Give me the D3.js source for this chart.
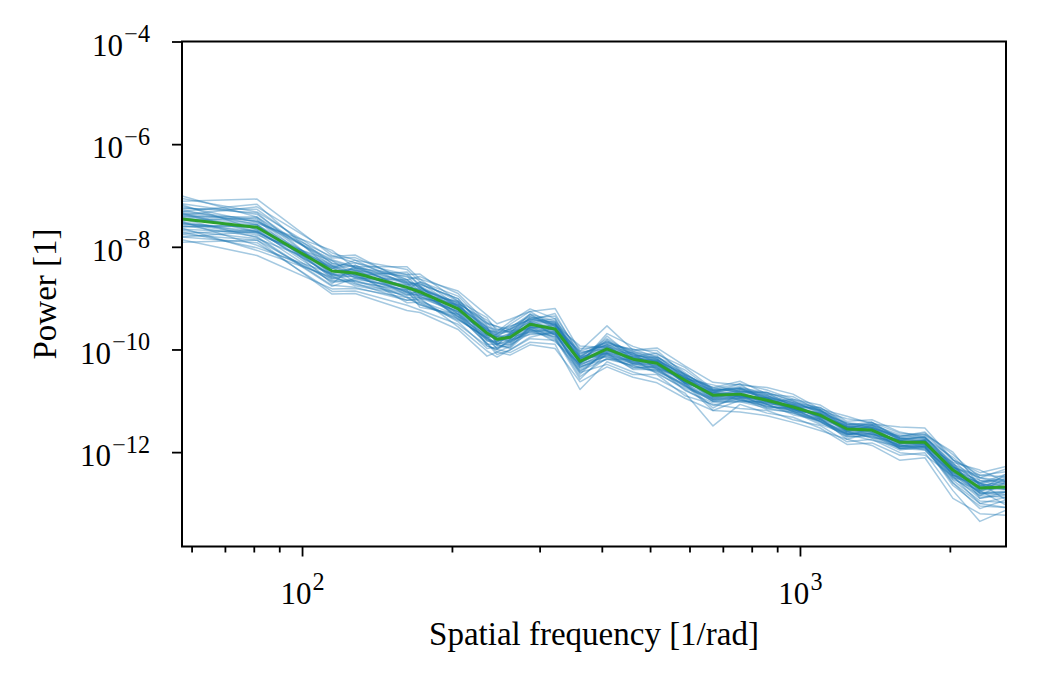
<!DOCTYPE html>
<html>
<head>
<meta charset="utf-8">
<script src="https://cdn.jsdelivr.net/npm/d3@7"></script>
<style>
  body { margin: 0; background: #fff; }
  text { font-family: "Liberation Serif", "DejaVu Serif", serif; fill: #000; }
</style>
</head>
<body>
<svg id="container" width="1039" height="686"></svg>
<script>
// spatial frequency bins [1/rad]
const frequency = [57.4, 81.2, 114.9, 127.8, 162.5, 172.5, 205.8, 235.2, 246.4, 261.6, 287.0, 322.2, 361.6,
  409.7, 462.0, 516.3, 587.5, 668.8, 757.7, 858.6, 968.2, 1097, 1243, 1395, 1588, 1782, 2029, 2298, 2593];

// green mean curve, log10 of power
const meanLogPower = [-7.46, -7.62, -8.47, -8.51, -8.79, -8.88, -9.21, -9.68, -9.80, -9.76, -9.51, -9.60, -10.23,
  -9.99, -10.19, -10.27, -10.60, -10.89, -10.87, -10.99, -11.12, -11.28, -11.55, -11.57, -11.81, -11.81, -12.35, -12.70, -12.68];

// individual realisations (thin blue), log10 of power
const realizationLogPower = [
  [-7.26, -7.27, -8.32, -8.46, -8.69, -8.93, -9.13, -9.56, -9.90, -9.71, -9.43, -9.63, -10.13, -10.07, -10.14, -10.24, -10.66, -10.85, -10.92, -10.93, -11.16, -11.25, -11.61, -11.49, -11.84, -11.76, -12.45, -12.58, -12.53],
  [-7.76, -7.87, -8.67, -8.66, -8.89, -9.00, -9.26, -9.83, -9.88, -9.86, -9.63, -9.66, -10.43, -10.04, -10.27, -10.31, -10.57, -10.99, -10.89, -11.05, -11.10, -11.33, -11.58, -11.65, -11.77, -11.87, -12.20, -12.90, -12.78],
  [-7.11, -7.07, -8.17, -8.31, -8.54, -8.73, -9.01, -9.63, -9.68, -9.61, -9.41, -9.52, -10.18, -9.89, -10.16, -10.21, -10.50, -10.89, -10.79, -10.96, -11.06, -11.18, -11.50, -11.55, -11.73, -11.77, -12.25, -12.75, -12.43],
  [-7.86, -8.17, -8.82, -8.81, -8.99, -9.13, -9.36, -9.88, -10.05, -9.94, -9.61, -9.75, -10.53, -10.17, -10.31, -10.42, -10.68, -11.19, -10.99, -11.09, -11.20, -11.40, -11.70, -11.67, -11.93, -11.89, -12.65, -13.05, -13.08],
  [-7.36, -7.72, -8.42, -8.26, -8.74, -8.78, -9.31, -9.63, -9.65, -9.56, -9.36, -9.48, -10.11, -9.84, -10.11, -10.17, -10.65, -10.81, -10.75, -10.99, -11.07, -11.31, -11.47, -11.52, -11.89, -11.81, -12.30, -12.50, -12.63],
  [-7.61, -7.57, -8.57, -8.76, -8.94, -8.93, -9.06, -9.93, -10.00, -9.81, -9.71, -9.70, -10.38, -10.11, -10.24, -10.37, -10.52, -10.94, -10.95, -10.94, -11.22, -11.23, -11.60, -11.72, -11.78, -11.91, -12.43, -12.85, -12.58],
  [-7.21, -7.52, -8.27, -8.41, -8.59, -8.63, -9.16, -9.58, -9.80, -9.68, -9.31, -9.45, -9.98, -9.94, -10.07, -10.25, -10.55, -10.74, -10.84, -10.91, -11.02, -11.22, -11.52, -11.45, -11.71, -11.66, -12.15, -12.65, -12.73],
  [-7.51, -7.97, -8.62, -8.51, -9.09, -9.08, -9.41, -9.78, -9.92, -9.96, -9.56, -9.78, -10.58, -10.07, -10.39, -10.39, -10.70, -11.01, -10.93, -11.07, -11.27, -11.38, -11.65, -11.62, -11.93, -11.86, -12.60, -13.00, -12.88],
  [-7.41, -7.42, -8.52, -8.41, -8.79, -8.83, -9.11, -9.43, -9.60, -9.66, -9.46, -9.40, -10.15, -9.79, -10.09, -10.22, -10.48, -10.81, -10.72, -10.89, -11.09, -11.20, -11.45, -11.49, -11.76, -11.71, -12.23, -12.62, -12.48],
  [-7.66, -7.72, -8.37, -8.61, -8.64, -8.88, -9.36, -9.73, -9.75, -9.76, -9.66, -9.60, -10.33, -10.19, -10.19, -10.47, -10.75, -10.97, -10.97, -11.11, -11.17, -11.36, -11.67, -11.57, -11.91, -11.84, -12.50, -12.60, -12.93],
  [-7.31, -7.47, -8.72, -8.36, -8.84, -8.68, -8.96, -9.53, -9.70, -9.51, -9.26, -9.55, -10.03, -9.87, -10.04, -10.12, -10.57, -10.69, -10.82, -10.84, -11.00, -11.25, -11.43, -11.47, -11.66, -11.73, -12.10, -12.55, -12.58],
  [-7.71, -8.02, -8.52, -8.71, -9.04, -9.03, -9.46, -9.98, -9.95, -9.88, -9.59, -9.85, -10.28, -10.14, -10.34, -10.35, -10.80, -11.04, -11.02, -11.02, -11.20, -11.43, -11.63, -11.69, -11.86, -11.96, -12.55, -12.95, -12.98],
  [-7.16, -7.37, -8.37, -8.56, -8.49, -8.78, -9.21, -9.68, -9.85, -9.71, -9.51, -9.50, -10.28, -9.74, -10.14, -10.07, -10.45, -10.84, -10.67, -11.04, -10.97, -11.16, -11.55, -11.42, -11.76, -11.69, -12.30, -12.45, -12.38],
  [-7.46, -7.82, -8.77, -8.61, -8.84, -9.18, -9.31, -9.88, -10.10, -10.01, -9.76, -9.65, -10.48, -9.99, -10.29, -10.27, -10.65, -11.14, -10.87, -11.14, -11.12, -11.33, -11.75, -11.62, -11.89, -11.76, -12.40, -12.80, -12.83],
  [-7.06, -7.32, -8.22, -8.21, -8.64, -8.58, -8.91, -9.48, -9.55, -9.61, -9.39, -9.35, -10.08, -9.91, -9.99, -10.15, -10.40, -10.79, -10.77, -10.87, -11.04, -11.13, -11.47, -11.54, -11.69, -11.63, -12.05, -12.50, -12.33],
  [-7.56, -7.62, -8.47, -8.46, -8.89, -8.96, -9.26, -9.60, -9.75, -9.84, -9.56, -9.68, -10.18, -10.09, -10.24, -10.32, -10.60, -10.79, -10.92, -10.96, -11.17, -11.28, -11.50, -11.62, -11.81, -11.86, -12.27, -12.75, -12.68],
  [-7.38, -7.22, -8.12, -8.26, -8.44, -8.68, -9.06, -9.38, -9.65, -9.46, -9.21, -9.40, -10.28, -9.69, -9.94, -10.09, -10.35, -10.77, -10.67, -10.79, -10.97, -11.08, -11.40, -11.37, -11.61, -11.71, -12.20, -12.35, -12.58],
  [-7.81, -7.92, -8.87, -8.86, -9.14, -9.23, -9.51, -9.93, -10.00, -10.06, -9.86, -9.90, -10.78, -10.24, -10.44, -10.57, -10.85, -11.49, -11.07, -11.24, -11.32, -11.53, -11.85, -11.82, -12.06, -12.01, -12.75, -13.35, -13.13],
  [-7.28, -7.57, -8.42, -8.36, -8.71, -8.76, -9.41, -9.78, -9.70, -9.64, -9.59, -9.52, -9.93, -9.96, -10.11, -10.19, -10.52, -10.92, -10.79, -10.94, -11.04, -11.33, -11.50, -11.52, -11.73, -11.81, -12.40, -12.60, -12.73],
  [-7.54, -7.77, -8.27, -8.56, -8.99, -8.98, -9.16, -9.80, -9.85, -9.71, -9.46, -9.72, -10.31, -10.04, -10.07, -10.39, -10.72, -10.94, -10.92, -11.07, -11.24, -11.36, -11.63, -11.65, -11.86, -11.91, -12.47, -12.90, -12.83],
  [-7.24, -7.34, -8.55, -8.46, -8.57, -8.83, -9.09, -9.50, -9.55, -9.68, -9.39, -9.48, -10.23, -9.81, -10.19, -10.19, -10.65, -10.84, -10.77, -10.91, -11.07, -11.18, -11.60, -11.47, -11.78, -11.76, -12.27, -12.78, -12.50],
  [-7.74, -7.67, -8.65, -8.63, -8.79, -9.10, -9.43, -9.76, -9.98, -9.91, -9.69, -9.68, -10.35, -10.11, -10.37, -10.32, -10.65, -11.01, -10.99, -11.11, -11.15, -11.40, -11.60, -11.72, -11.96, -11.89, -12.53, -12.75, -13.03],
  [-7.34, -7.50, -8.19, -8.16, -8.69, -8.73, -9.01, -9.68, -9.75, -9.58, -9.31, -9.60, -10.05, -9.99, -10.14, -10.15, -10.48, -10.79, -10.75, -10.84, -11.12, -11.13, -11.43, -11.52, -11.69, -11.61, -12.15, -12.45, -12.48],
  [-7.64, -8.07, -8.59, -8.73, -8.91, -9.06, -9.33, -9.90, -9.90, -9.98, -9.63, -9.80, -10.41, -10.19, -10.31, -10.45, -10.78, -11.09, -10.95, -11.17, -11.22, -11.46, -11.65, -11.77, -11.89, -11.93, -12.60, -13.10, -12.93],
  [-7.41, -7.54, -8.07, -8.41, -8.54, -8.53, -9.06, -9.56, -9.62, -9.54, -9.43, -9.30, -10.13, -9.87, -10.01, -10.02, -10.50, -10.74, -10.62, -10.87, -10.92, -11.20, -11.35, -11.42, -11.63, -11.66, -12.00, -12.65, -12.56],
  [-7.58, -7.80, -8.75, -8.79, -9.04, -9.00, -9.56, -10.03, -10.15, -10.01, -9.79, -9.82, -10.45, -10.29, -10.49, -10.49, -10.90, -11.07, -11.15, -11.19, -11.37, -11.48, -11.80, -11.75, -12.01, -12.06, -12.47, -13.00, -13.08],
  [-7.18, -7.67, -8.39, -8.31, -8.64, -8.80, -9.13, -9.63, -9.80, -9.81, -9.36, -9.55, -10.18, -9.91, -10.27, -10.22, -10.55, -10.97, -10.82, -10.89, -11.17, -11.23, -11.50, -11.57, -11.81, -11.78, -12.35, -12.55, -12.68],
  [-7.49, -7.44, -8.62, -8.56, -8.87, -8.91, -9.29, -9.83, -9.85, -9.73, -9.54, -9.63, -10.26, -10.02, -10.16, -10.30, -10.63, -10.86, -10.90, -11.02, -11.09, -11.31, -11.52, -11.60, -11.78, -11.84, -12.38, -12.80, -12.76],
  [-7.01, -7.42, -8.32, -8.39, -8.39, -8.63, -8.86, -9.33, -9.50, -9.41, -9.26, -9.20, -10.03, -9.54, -10.01, -9.97, -10.32, -10.64, -10.69, -10.74, -10.87, -11.16, -11.30, -11.45, -11.51, -11.53, -12.15, -12.40, -12.28],
  [-7.91, -7.87, -8.92, -8.91, -9.24, -9.28, -9.61, -10.13, -10.05, -10.11, -9.91, -9.98, -10.63, -10.34, -10.54, -10.65, -10.95, -11.19, -11.22, -11.29, -11.42, -11.58, -11.75, -11.87, -12.16, -12.11, -12.90, -13.20, -13.23],
  [-7.34, -7.70, -8.42, -8.59, -8.74, -8.70, -9.19, -9.65, -9.72, -9.79, -9.49, -9.45, -10.25, -9.94, -10.11, -10.35, -10.58, -10.86, -10.85, -11.01, -11.10, -11.25, -11.57, -11.52, -11.83, -11.79, -12.30, -12.65, -12.60],
  [-7.61, -7.60, -8.52, -8.43, -8.94, -8.85, -9.23, -9.73, -9.92, -9.68, -9.59, -9.65, -10.20, -10.07, -10.22, -10.22, -10.68, -10.91, -10.89, -10.94, -11.18, -11.26, -11.63, -11.55, -11.86, -11.89, -12.30, -12.82, -12.78],
  [-7.44, -7.57, -8.59, -8.49, -8.71, -9.00, -9.13, -9.70, -9.78, -9.86, -9.46, -9.72, -10.18, -9.94, -10.24, -10.24, -10.55, -10.94, -10.82, -11.07, -11.07, -11.36, -11.53, -11.65, -11.76, -11.79, -12.45, -12.67, -12.71],
  [-7.68, -7.84, -8.39, -8.69, -8.84, -8.83, -9.36, -9.60, -9.88, -9.91, -9.56, -9.57, -10.15, -10.14, -10.27, -10.39, -10.55, -10.81, -10.99, -11.04, -11.15, -11.40, -11.67, -11.54, -11.93, -11.93, -12.40, -12.67, -12.63],
  [-7.38, -7.50, -8.25, -8.39, -8.81, -8.80, -9.09, -9.48, -9.68, -9.61, -9.33, -9.52, -10.08, -9.91, -10.07, -10.15, -10.48, -10.77, -10.82, -10.84, -11.00, -11.18, -11.45, -11.47, -11.73, -11.71, -12.23, -12.50, -12.56],
  [-7.51, -7.74, -8.69, -8.66, -8.97, -9.13, -9.39, -9.80, -9.98, -9.84, -9.66, -9.75, -10.35, -10.09, -10.34, -10.42, -10.72, -11.01, -11.02, -11.14, -11.24, -11.40, -11.70, -11.69, -11.93, -11.96, -12.50, -12.85, -12.88],
  [-7.31, -7.17, -8.47, -8.43, -8.67, -8.76, -9.16, -9.58, -9.72, -9.64, -9.41, -9.50, -10.15, -9.84, -10.04, -10.19, -10.52, -10.84, -10.75, -10.94, -11.04, -11.20, -11.47, -11.42, -11.73, -11.73, -12.27, -12.60, -12.43],
  [-7.81, -7.70, -8.55, -8.59, -8.87, -8.96, -9.31, -9.76, -9.90, -9.81, -9.61, -9.70, -10.31, -10.07, -10.29, -10.35, -10.70, -10.97, -10.95, -11.07, -11.20, -11.36, -11.65, -11.65, -11.89, -11.89, -12.45, -12.78, -12.78],
  [-7.44, -7.65, -8.35, -8.54, -8.76, -8.86, -9.16, -9.73, -9.75, -9.71, -9.53, -9.55, -10.28, -9.96, -10.16, -10.24, -10.62, -10.84, -10.90, -10.96, -11.12, -11.30, -11.52, -11.59, -11.78, -11.83, -12.33, -12.62, -12.70],
  [-7.54, -7.70, -8.55, -8.53, -8.81, -8.93, -9.26, -9.70, -9.82, -9.78, -9.56, -9.62, -10.25, -10.02, -10.21, -10.30, -10.62, -10.91, -10.92, -11.01, -11.15, -11.30, -11.57, -11.60, -11.83, -11.84, -12.43, -12.73, -12.73]
];

const yTickExps = [-4, -6, -8, -10, -12];
const xTickExps = [2, 3];
const xMinorTicks = [60, 70, 80, 90, 200, 300, 400, 500, 600, 700, 800, 900, 2000];
const yLimits = [1.45e-14, 1e-4];

const main = function() {
  var svg = d3.select('#container');
  var left = 182, right = 1006, top = 41.5, bottom = 546.5;
  var tickFont = 31, labelFont = 33;

  var x = d3.scaleLog()
    .domain(d3.extent(frequency))
    .range([left, right]);
  var y = d3.scaleLog()
    .domain(yLimits)
    .range([bottom, top]);

  svg.append("defs").append("clipPath").attr("id", "plotclip")
    .append("rect")
    .attr("x", left).attr("y", top)
    .attr("width", right - left).attr("height", bottom - top);

  var line = d3.line()
    .x(function(d, i) { return x(frequency[i]); })
    .y(function(d) { return y(Math.pow(10, d)); });

  var plot = svg.append("g").attr("clip-path", "url(#plotclip)");

  plot.selectAll("path.real")
    .data(realizationLogPower)
    .enter().append("path")
    .attr("class", "real")
    .attr("d", line)
    .attr("fill", "none")
    .attr("stroke", "#1f77b4")
    .attr("stroke-opacity", 0.4)
    .attr("stroke-width", 1.5)
    .attr("stroke-linejoin", "round");

  plot.append("path")
    .datum(meanLogPower)
    .attr("d", line)
    .attr("fill", "none")
    .attr("stroke", "#2ca02c")
    .attr("stroke-width", 3)
    .attr("stroke-linejoin", "round");

  // superscript tick labels, 10^n
  var powLabel = function(sel, exp) {
    sel.text(null);
    sel.append("tspan").text("10");
    sel.append("tspan")
      .attr("dx", "0.05em")
      .attr("dy", "-0.55em")
      .attr("font-size", "0.78em")
      .text(exp < 0 ? "\u2212" + (-exp) : String(exp));
  };

  // x axis: major and minor
  var xMajor = svg.append("g")
    .attr("transform", "translate(0," + bottom + ")")
    .call(d3.axisBottom(x)
      .tickValues(xTickExps.map(function(e) { return Math.pow(10, e); }))
      .tickSize(10).tickFormat(""));
  xMajor.selectAll(".tick text")
    .attr("font-size", tickFont)
    .attr("y", 57)
    .attr("dy", 0)
    .each(function(d, i) { powLabel(d3.select(this), xTickExps[i]); });

  svg.append("g")
    .attr("transform", "translate(0," + bottom + ")")
    .call(d3.axisBottom(x).tickValues(xMinorTicks).tickSize(6).tickFormat(""));

  var yAxis = svg.append("g")
    .attr("transform", "translate(" + left + ",0)")
    .call(d3.axisLeft(y)
      .tickValues(yTickExps.map(function(e) { return Math.pow(10, e); }))
      .tickSize(10).tickPadding(22).tickFormat(""));
  yAxis.selectAll(".tick text")
    .attr("font-size", tickFont)
    .attr("dy", "0.44em")
    .each(function(d, i) { powLabel(d3.select(this), yTickExps[i]); });

  svg.selectAll(".domain").remove();
  svg.selectAll(".tick line").attr("stroke", "#000").attr("stroke-width", 1.8);
  svg.selectAll(".tick text").attr("font-family", null);

  // frame
  svg.append("rect")
    .attr("x", left).attr("y", top)
    .attr("width", right - left).attr("height", bottom - top)
    .attr("fill", "none")
    .attr("stroke", "#000")
    .attr("stroke-width", 2);

  svg.append("text")
    .attr("x", (left + right) / 2)
    .attr("y", 645)
    .attr("text-anchor", "middle")
    .attr("font-size", labelFont)
    .text("Spatial frequency [1/rad]");

  svg.append("text")
    .attr("transform", "translate(56," + ((top + bottom) / 2) + ") rotate(-90)")
    .attr("text-anchor", "middle")
    .attr("font-size", labelFont)
    .text("Power [1]");
};

main();
</script>
</body>
</html>
